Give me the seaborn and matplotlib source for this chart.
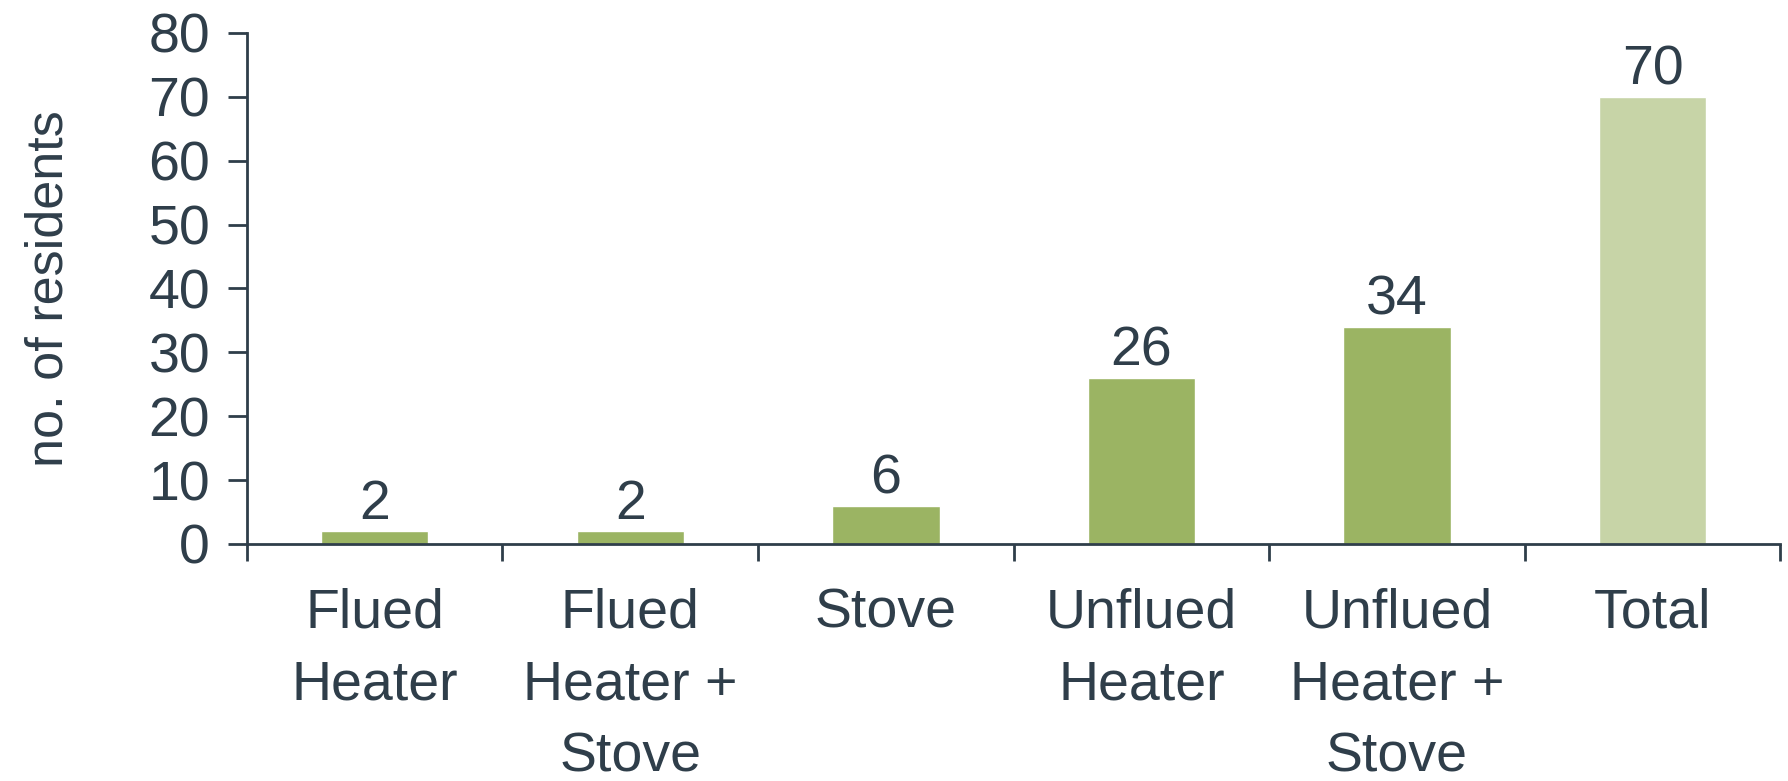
import numpy as np
import pandas as pd
import matplotlib
matplotlib.use("Agg")
import matplotlib.pyplot as plt
import seaborn as sns

# data
categories = ["Flued\nHeater", "Flued\nHeater +\nStove", "Stove",
              "Unflued\nHeater", "Unflued\nHeater +\nStove", "Total"]
residents = [2, 2, 6, 26, 34, 70]
bar_colors = ["#9bb463", "#9bb463", "#9bb463", "#9bb463", "#9bb463", "#c7d4a7"]
y_ticks = [0, 10, 20, 30, 40, 50, 60, 70, 80]

text_color = "#2f3e4a"

sns.set_theme(style="white")
plt.rcParams['font.family'] = ['Liberation Sans', 'DejaVu Sans']

df = pd.DataFrame({'category': categories, 'residents': residents})

fig = plt.figure(figsize=(17.88, 7.81), dpi=100)
ax = fig.add_axes([0.1381, 0.3035, 0.8576, 0.6543])

sns.barplot(
    data=df,
    x='category',
    y='residents',
    hue='category',
    palette=bar_colors,
    legend=False,
    width=0.42,
    saturation=1,
    ax=ax
)

for c in ax.containers:
    ax.bar_label(c, fmt='%d', padding=0, fontsize=40, color=text_color)

ax.set_xlim(-0.5, len(categories) - 0.5)
ax.set_ylim(0, 80)
ax.set_yticks(y_ticks)

# labels sit on the centres, ticks on the boundaries
ax.set_xticks(np.arange(len(categories)))
ax.set_xticklabels(categories, fontsize=40, color=text_color, linespacing=1.5)
ax.set_xticks(np.arange(len(categories) + 1) - 0.5, minor=True)
ax.tick_params(axis='x', which='major', length=0, pad=31)
ax.tick_params(axis='x', which='minor', direction='out', length=12.5,
               width=2, color=text_color, bottom=True)
ax.tick_params(axis='y', which='major', direction='out', length=13.5,
               width=2, color=text_color, pad=13, labelsize=40,
               labelcolor=text_color, left=True)

ax.set_xlabel('')
ax.set_ylabel('no. of residents', fontsize=37.5, color=text_color, labelpad=54)

sns.despine(ax=ax, top=True, right=True)
for s in ['left', 'bottom']:
    ax.spines[s].set_color(text_color)
    ax.spines[s].set_linewidth(2)

fig.savefig('out.png', dpi=100)
